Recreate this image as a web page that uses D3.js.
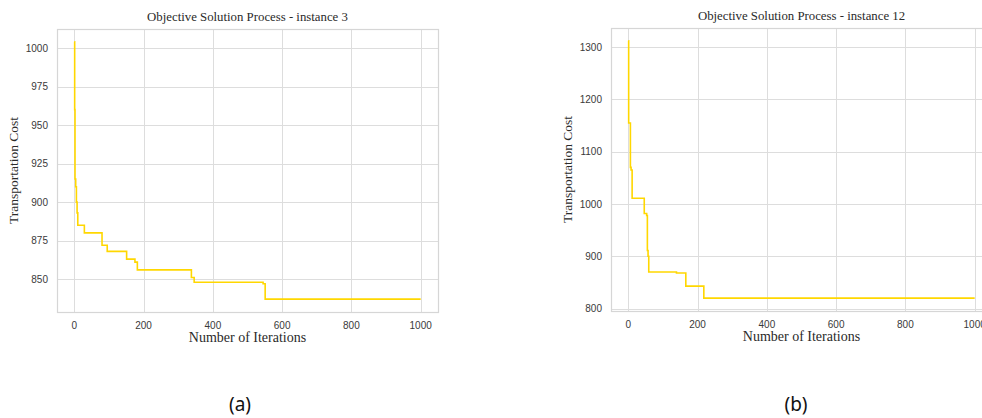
<!DOCTYPE html>
<html>
<head>
<meta charset="utf-8">
<script src="https://cdn.jsdelivr.net/npm/d3@7"></script>
<style>
  html, body { margin: 0; padding: 0; background: #fff; }
  #chart { width: 982px; height: 418px; overflow: hidden; }
  .grid line { stroke: #dddddd; stroke-width: 1; }
  .tick-label { font-family: 'Liberation Sans', Arial, sans-serif; font-size: 10px; fill: #3a3a3a; }
  .serif { font-family: 'Liberation Serif', 'DejaVu Serif', serif; fill: #2a2a2a; }
</style>
</head>
<body>
<div id="chart"></div>
<script>
'use strict';

// instance 3 – best cost per iteration (step changes only)
const inst3Iter = [0, 1, 2, 4, 6, 8, 10, 29, 80, 95, 151, 175, 182, 338, 346, 545, 551, 1000];
const inst3Cost = [1004, 960, 915, 910, 900, 893, 885, 880, 872, 868, 863, 861, 856, 851, 848, 847, 837, 837];

// instance 12
const inst12Iter = [0, 1, 6, 8, 11, 46, 53, 55, 57, 59, 139, 166, 218, 1000];
const inst12Cost = [1312, 1155, 1070, 1065, 1011, 982, 978, 911, 900, 870, 868, 843, 820, 820];

const xTicks = [0, 200, 400, 600, 800, 1000];
const inst3YTicks = [850, 875, 900, 925, 950, 975, 1000];
const inst12YTicks = [800, 900, 1000, 1100, 1200, 1300];

const LINE_COLOR = '#ffd700';
const PLOT_W = 381, PLOT_H = 283;

const svg = d3.select('#chart').append('svg')
  .attr('width', 982).attr('height', 418);

function drawPanel({ left, top, iters, costs, yTicks, title, caption, captionX }) {
  const data = iters.map((it, i) => ({ it, cost: costs[i] }));

  // matplotlib-style 5% padding
  const [xmin, xmax] = d3.extent(iters);
  const [ymin, ymax] = d3.extent(costs);
  const xp = (xmax - xmin) * 0.05, yp = (ymax - ymin) * 0.05;

  const x = d3.scaleLinear().domain([xmin - xp, xmax + xp]).range([0, PLOT_W]);
  const y = d3.scaleLinear().domain([ymin - yp, ymax + yp]).range([PLOT_H, 0]);

  const g = svg.append('g').attr('transform', `translate(${left},${top})`);

  // grid
  g.append('g').attr('class', 'grid')
    .selectAll('line.h').data(yTicks).join('line')
    .attr('x1', 0).attr('x2', PLOT_W)
    .attr('y1', d => Math.round(y(d)) + 0.5).attr('y2', d => Math.round(y(d)) + 0.5);
  g.append('g').attr('class', 'grid')
    .selectAll('line.v').data(xTicks).join('line')
    .attr('y1', 0).attr('y2', PLOT_H)
    .attr('x1', d => Math.round(x(d)) + 0.5).attr('x2', d => Math.round(x(d)) + 0.5);

  // frame
  g.append('rect')
    .attr('x', 0.5).attr('y', 0.5)
    .attr('width', PLOT_W).attr('height', PLOT_H)
    .attr('fill', 'none').attr('stroke', '#d6d6d6').attr('stroke-width', 1.2);

  // tick labels
  g.selectAll('text.ytl').data(yTicks).join('text')
    .attr('class', 'tick-label')
    .attr('x', -9).attr('y', d => y(d))
    .attr('dy', '0.35em')
    .attr('text-anchor', 'end')
    .text(d => d);

  g.selectAll('text.xtl').data(xTicks).join('text')
    .attr('class', 'tick-label')
    .attr('x', d => x(d)).attr('y', PLOT_H + 17)
    .attr('text-anchor', 'middle')
    .text(d => d);

  // series
  const line = d3.line()
    .x(d => x(d.it))
    .y(d => y(d.cost))
    .curve(d3.curveStepAfter);

  g.append('path')
    .datum(data)
    .attr('fill', 'none')
    .attr('stroke', LINE_COLOR)
    .attr('stroke-width', 1.6)
    .attr('d', line);

  // labels
  g.append('text').attr('class', 'serif')
    .attr('x', PLOT_W / 2).attr('y', -8)
    .attr('text-anchor', 'middle')
    .attr('font-size', '12.8px')
    .text(title);

  g.append('text').attr('class', 'serif')
    .attr('x', PLOT_W / 2).attr('y', PLOT_H + 30)
    .attr('text-anchor', 'middle')
    .attr('font-size', '14px')
    .text('Number of Iterations');

  g.append('text').attr('class', 'serif')
    .attr('transform', 'rotate(-90)')
    .attr('x', -PLOT_H / 2).attr('y', -39)
    .attr('text-anchor', 'middle')
    .attr('font-size', '13.5px')
    .text('Transportation Cost');

  svg.append('text')
    .attr('x', captionX).attr('y', 411)
    .attr('text-anchor', 'middle')
    .attr('font-family', "'Noto Sans', 'Open Sans', sans-serif")
    .attr('font-size', '19px')
    .attr('fill', '#111')
    .text(caption);
}

drawPanel({
  left: 57, top: 29,
  iters: inst3Iter, costs: inst3Cost, yTicks: inst3YTicks,
  title: 'Objective Solution Process - instance 3',
  caption: '(a)', captionX: 240,
});

drawPanel({
  left: 611, top: 28,
  iters: inst12Iter, costs: inst12Cost, yTicks: inst12YTicks,
  title: 'Objective Solution Process - instance 12',
  caption: '(b)', captionX: 796,
});
</script>
</body>
</html>
